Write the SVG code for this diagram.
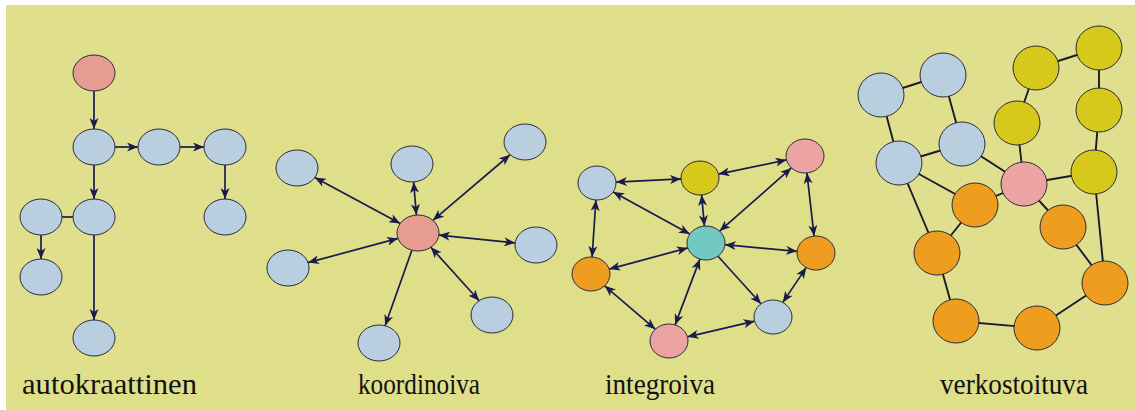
<svg xmlns="http://www.w3.org/2000/svg" width="1135" height="410" viewBox="0 0 1135 410">
<defs>
<marker id="arr" viewBox="0 0 11 9" markerWidth="11" markerHeight="9" refX="11" refY="4.5" orient="auto-start-reverse" markerUnits="userSpaceOnUse">
<path d="M0,0 L11,4.5 L0,9 L3,4.5 z" fill="#1a1a4e"/>
</marker>
</defs>
<style>
.bg{fill:#dfdf8a}
.patch{fill:#e6e69e;opacity:0.18}
.n{stroke:#2a2a3a;stroke-width:1}
.blue{fill:#b9cfdf}
.red{fill:#e79c92}
.pink{fill:#eba3a3}
.yel{fill:#d6c91c}
.ora{fill:#ee9d1e}
.cyan{fill:#72c9c1}
.e{stroke:#1a1a4e;stroke-width:1.7;fill:none}
.a1{marker-end:url(#arr)}
.a2{marker-start:url(#arr);marker-end:url(#arr)}
.p{stroke:#1a1a2a;stroke-width:1.9}
.lbl{font-family:"Liberation Serif","DejaVu Serif",serif;font-size:29px;fill:#111}
</style>
<rect x="0" y="0" width="1135" height="410" fill="#ffffff"/>
<rect class="bg" x="6" y="5" width="1129" height="405"/>
<rect class="patch" x="6" y="45" width="250" height="315"/>
<rect class="patch" x="845" y="10" width="290" height="350"/>

<g id="connectors">
<!-- autokraattinen -->
<line class="e a1" x1="94" y1="91" x2="94" y2="129"/>
<line class="e a1" x1="115" y1="147" x2="138" y2="147"/>
<line class="e a1" x1="180" y1="147" x2="204" y2="147"/>
<line class="e a1" x1="94" y1="165" x2="94" y2="199"/>
<line class="e" x1="62" y1="217" x2="73" y2="217"/>
<line class="e a1" x1="41" y1="235" x2="41" y2="259"/>
<line class="e a1" x1="225" y1="165" x2="225" y2="199"/>
<line class="e a1" x1="94" y1="235" x2="94" y2="320"/>
<!-- koordinoiva -->
<line class="e a2" x1="416.4" y1="215" x2="413.6" y2="182"/>
<line class="e a2" x1="400.2" y1="223.4" x2="314.8" y2="177.6"/>
<line class="e a2" x1="432.9" y1="220.3" x2="510.1" y2="154.7"/>
<line class="e a2" x1="438.9" y1="235.1" x2="515.2" y2="242.9"/>
<line class="e a2" x1="398" y1="238.4" x2="308" y2="262.6"/>
<line class="e a2" x1="430.8" y1="247.2" x2="479.2" y2="300.8"/>
<line class="e a1" x1="411.9" y1="250.2" x2="385.1" y2="325.8"/>
<!-- integroiva -->
<line class="e a2" x1="616" y1="182.1" x2="681" y2="178.9"/>
<line class="e a2" x1="718.5" y1="174.1" x2="786.5" y2="159.9"/>
<line class="e a2" x1="613.2" y1="191.9" x2="689.8" y2="234.1"/>
<line class="e a2" x1="701.6" y1="194.9" x2="704.4" y2="226.1"/>
<line class="e a2" x1="791.4" y1="167.9" x2="719.6" y2="231.1"/>
<line class="e a2" x1="806.9" y1="172.9" x2="814.1" y2="236.1"/>
<line class="e a2" x1="724.9" y1="244.7" x2="797.1" y2="251.3"/>
<line class="e a2" x1="687.8" y1="247.9" x2="609.2" y2="269.1"/>
<line class="e a2" x1="595.9" y1="200" x2="592.1" y2="257"/>
<line class="e a2" x1="699.9" y1="259.1" x2="675.1" y2="324.9"/>
<line class="e a1" x1="718" y1="256.2" x2="761" y2="303.8"/>
<line class="e a2" x1="806.2" y1="267.6" x2="782.8" y2="302.4"/>
<line class="e a2" x1="604.7" y1="285.8" x2="655.3" y2="329.2"/>
<line class="e a2" x1="687.4" y1="336.8" x2="754.6" y2="321.2"/>
<!-- verkostoituva -->
<line class="p" x1="881" y1="95" x2="943" y2="75"/>
<line class="p" x1="943" y1="75" x2="962" y2="144"/>
<line class="p" x1="881" y1="95" x2="899" y2="163"/>
<line class="p" x1="899" y1="163" x2="962" y2="144"/>
<line class="p" x1="962" y1="144" x2="1024" y2="184"/>
<line class="p" x1="899" y1="163" x2="975" y2="205"/>
<line class="p" x1="899" y1="163" x2="937" y2="253"/>
<line class="p" x1="975" y1="205" x2="937" y2="253"/>
<line class="p" x1="975" y1="205" x2="1024" y2="184"/>
<line class="p" x1="1036" y1="68" x2="1099" y2="48"/>
<line class="p" x1="1036" y1="68" x2="1017" y2="123"/>
<line class="p" x1="1017" y1="123" x2="1024" y2="184"/>
<line class="p" x1="1099" y1="48" x2="1099" y2="110"/>
<line class="p" x1="1099" y1="110" x2="1094" y2="172"/>
<line class="p" x1="1024" y1="184" x2="1094" y2="172"/>
<line class="p" x1="1024" y1="184" x2="1063" y2="227"/>
<line class="p" x1="1063" y1="227" x2="1105" y2="283"/>
<line class="p" x1="1094" y1="172" x2="1105" y2="283"/>
<line class="p" x1="1105" y1="283" x2="1037" y2="328"/>
<line class="p" x1="1037" y1="328" x2="956" y2="321"/>
<line class="p" x1="956" y1="321" x2="937" y2="253"/>
</g>

<!-- autokraattinen nodes -->
<g id="a1"><ellipse class="n red" cx="94" cy="73" rx="21" ry="18"/></g>
<g id="a2"><ellipse class="n blue" cx="94" cy="147" rx="21" ry="18"/></g>
<g id="a3"><ellipse class="n blue" cx="159" cy="147" rx="21" ry="18"/></g>
<g id="a4"><ellipse class="n blue" cx="225" cy="147" rx="21" ry="18"/></g>
<g id="a5"><ellipse class="n blue" cx="94" cy="217" rx="21" ry="18"/></g>
<g id="a6"><ellipse class="n blue" cx="41" cy="217" rx="21" ry="18"/></g>
<g id="a7"><ellipse class="n blue" cx="41" cy="277" rx="21" ry="18"/></g>
<g id="a8"><ellipse class="n blue" cx="225" cy="217" rx="21" ry="18"/></g>
<g id="a9"><ellipse class="n blue" cx="94" cy="338" rx="21" ry="18"/></g>

<!-- koordinoiva nodes -->
<g id="k-center"><ellipse class="n red" cx="418" cy="233" rx="21" ry="18"/></g>
<g id="k-top"><ellipse class="n blue" cx="412" cy="164" rx="21" ry="18"/></g>
<g id="k-ul"><ellipse class="n blue" cx="297" cy="168" rx="21" ry="18"/></g>
<g id="k-ur"><ellipse class="n blue" cx="525" cy="142" rx="21" ry="18"/></g>
<g id="k-r"><ellipse class="n blue" cx="536" cy="245" rx="21" ry="18"/></g>
<g id="k-l"><ellipse class="n blue" cx="288" cy="268" rx="21" ry="18"/></g>
<g id="k-lr"><ellipse class="n blue" cx="492" cy="315" rx="21" ry="18"/></g>
<g id="k-b"><ellipse class="n blue" cx="379" cy="343" rx="21" ry="18"/></g>

<!-- integroiva nodes -->
<g id="i-btl"><ellipse class="n blue" cx="597" cy="183" rx="19" ry="17"/></g>
<g id="i-y"><ellipse class="n yel" cx="700" cy="178" rx="19" ry="17"/></g>
<g id="i-ptr"><ellipse class="n pink" cx="805" cy="156" rx="19" ry="17"/></g>
<g id="i-cy"><ellipse class="n cyan" cx="706" cy="243" rx="19" ry="17"/></g>
<g id="i-or"><ellipse class="n ora" cx="816" cy="253" rx="19" ry="17"/></g>
<g id="i-ol"><ellipse class="n ora" cx="591" cy="274" rx="19" ry="17"/></g>
<g id="i-blr"><ellipse class="n blue" cx="773" cy="317" rx="19" ry="17"/></g>
<g id="i-pb"><ellipse class="n pink" cx="669" cy="341" rx="19" ry="17"/></g>

<!-- verkostoituva nodes -->
<g id="v-b1"><ellipse class="n blue" cx="881" cy="95" rx="23" ry="22"/></g>
<g id="v-b2"><ellipse class="n blue" cx="943" cy="75" rx="23" ry="22"/></g>
<g id="v-b3"><ellipse class="n blue" cx="962" cy="144" rx="23" ry="22"/></g>
<g id="v-b4"><ellipse class="n blue" cx="899" cy="163" rx="23" ry="22"/></g>
<g id="v-y1"><ellipse class="n yel" cx="1036" cy="68" rx="23" ry="22"/></g>
<g id="v-y2"><ellipse class="n yel" cx="1099" cy="48" rx="23" ry="22"/></g>
<g id="v-y3"><ellipse class="n yel" cx="1017" cy="123" rx="23" ry="22"/></g>
<g id="v-y4"><ellipse class="n yel" cx="1099" cy="110" rx="23" ry="22"/></g>
<g id="v-y5"><ellipse class="n yel" cx="1094" cy="172" rx="23" ry="22"/></g>
<g id="v-pink"><ellipse class="n pink" cx="1024" cy="184" rx="23" ry="22"/></g>
<g id="v-o1"><ellipse class="n ora" cx="975" cy="205" rx="23" ry="22"/></g>
<g id="v-o2"><ellipse class="n ora" cx="1063" cy="227" rx="23" ry="22"/></g>
<g id="v-o3"><ellipse class="n ora" cx="937" cy="253" rx="23" ry="22"/></g>
<g id="v-o4"><ellipse class="n ora" cx="1105" cy="283" rx="23" ry="22"/></g>
<g id="v-o5"><ellipse class="n ora" cx="956" cy="321" rx="23" ry="22"/></g>
<g id="v-o6"><ellipse class="n ora" cx="1037" cy="328" rx="23" ry="22"/></g>

<g id="labels">
<text class="lbl" x="22" y="394" textLength="175" lengthAdjust="spacingAndGlyphs">autokraattinen</text>
<text class="lbl" x="358" y="394" textLength="122" lengthAdjust="spacingAndGlyphs">koordinoiva</text>
<text class="lbl" x="605" y="394" textLength="110" lengthAdjust="spacingAndGlyphs">integroiva</text>
<text class="lbl" x="940" y="394" textLength="148" lengthAdjust="spacingAndGlyphs">verkostoituva</text>
</g>
</svg>
